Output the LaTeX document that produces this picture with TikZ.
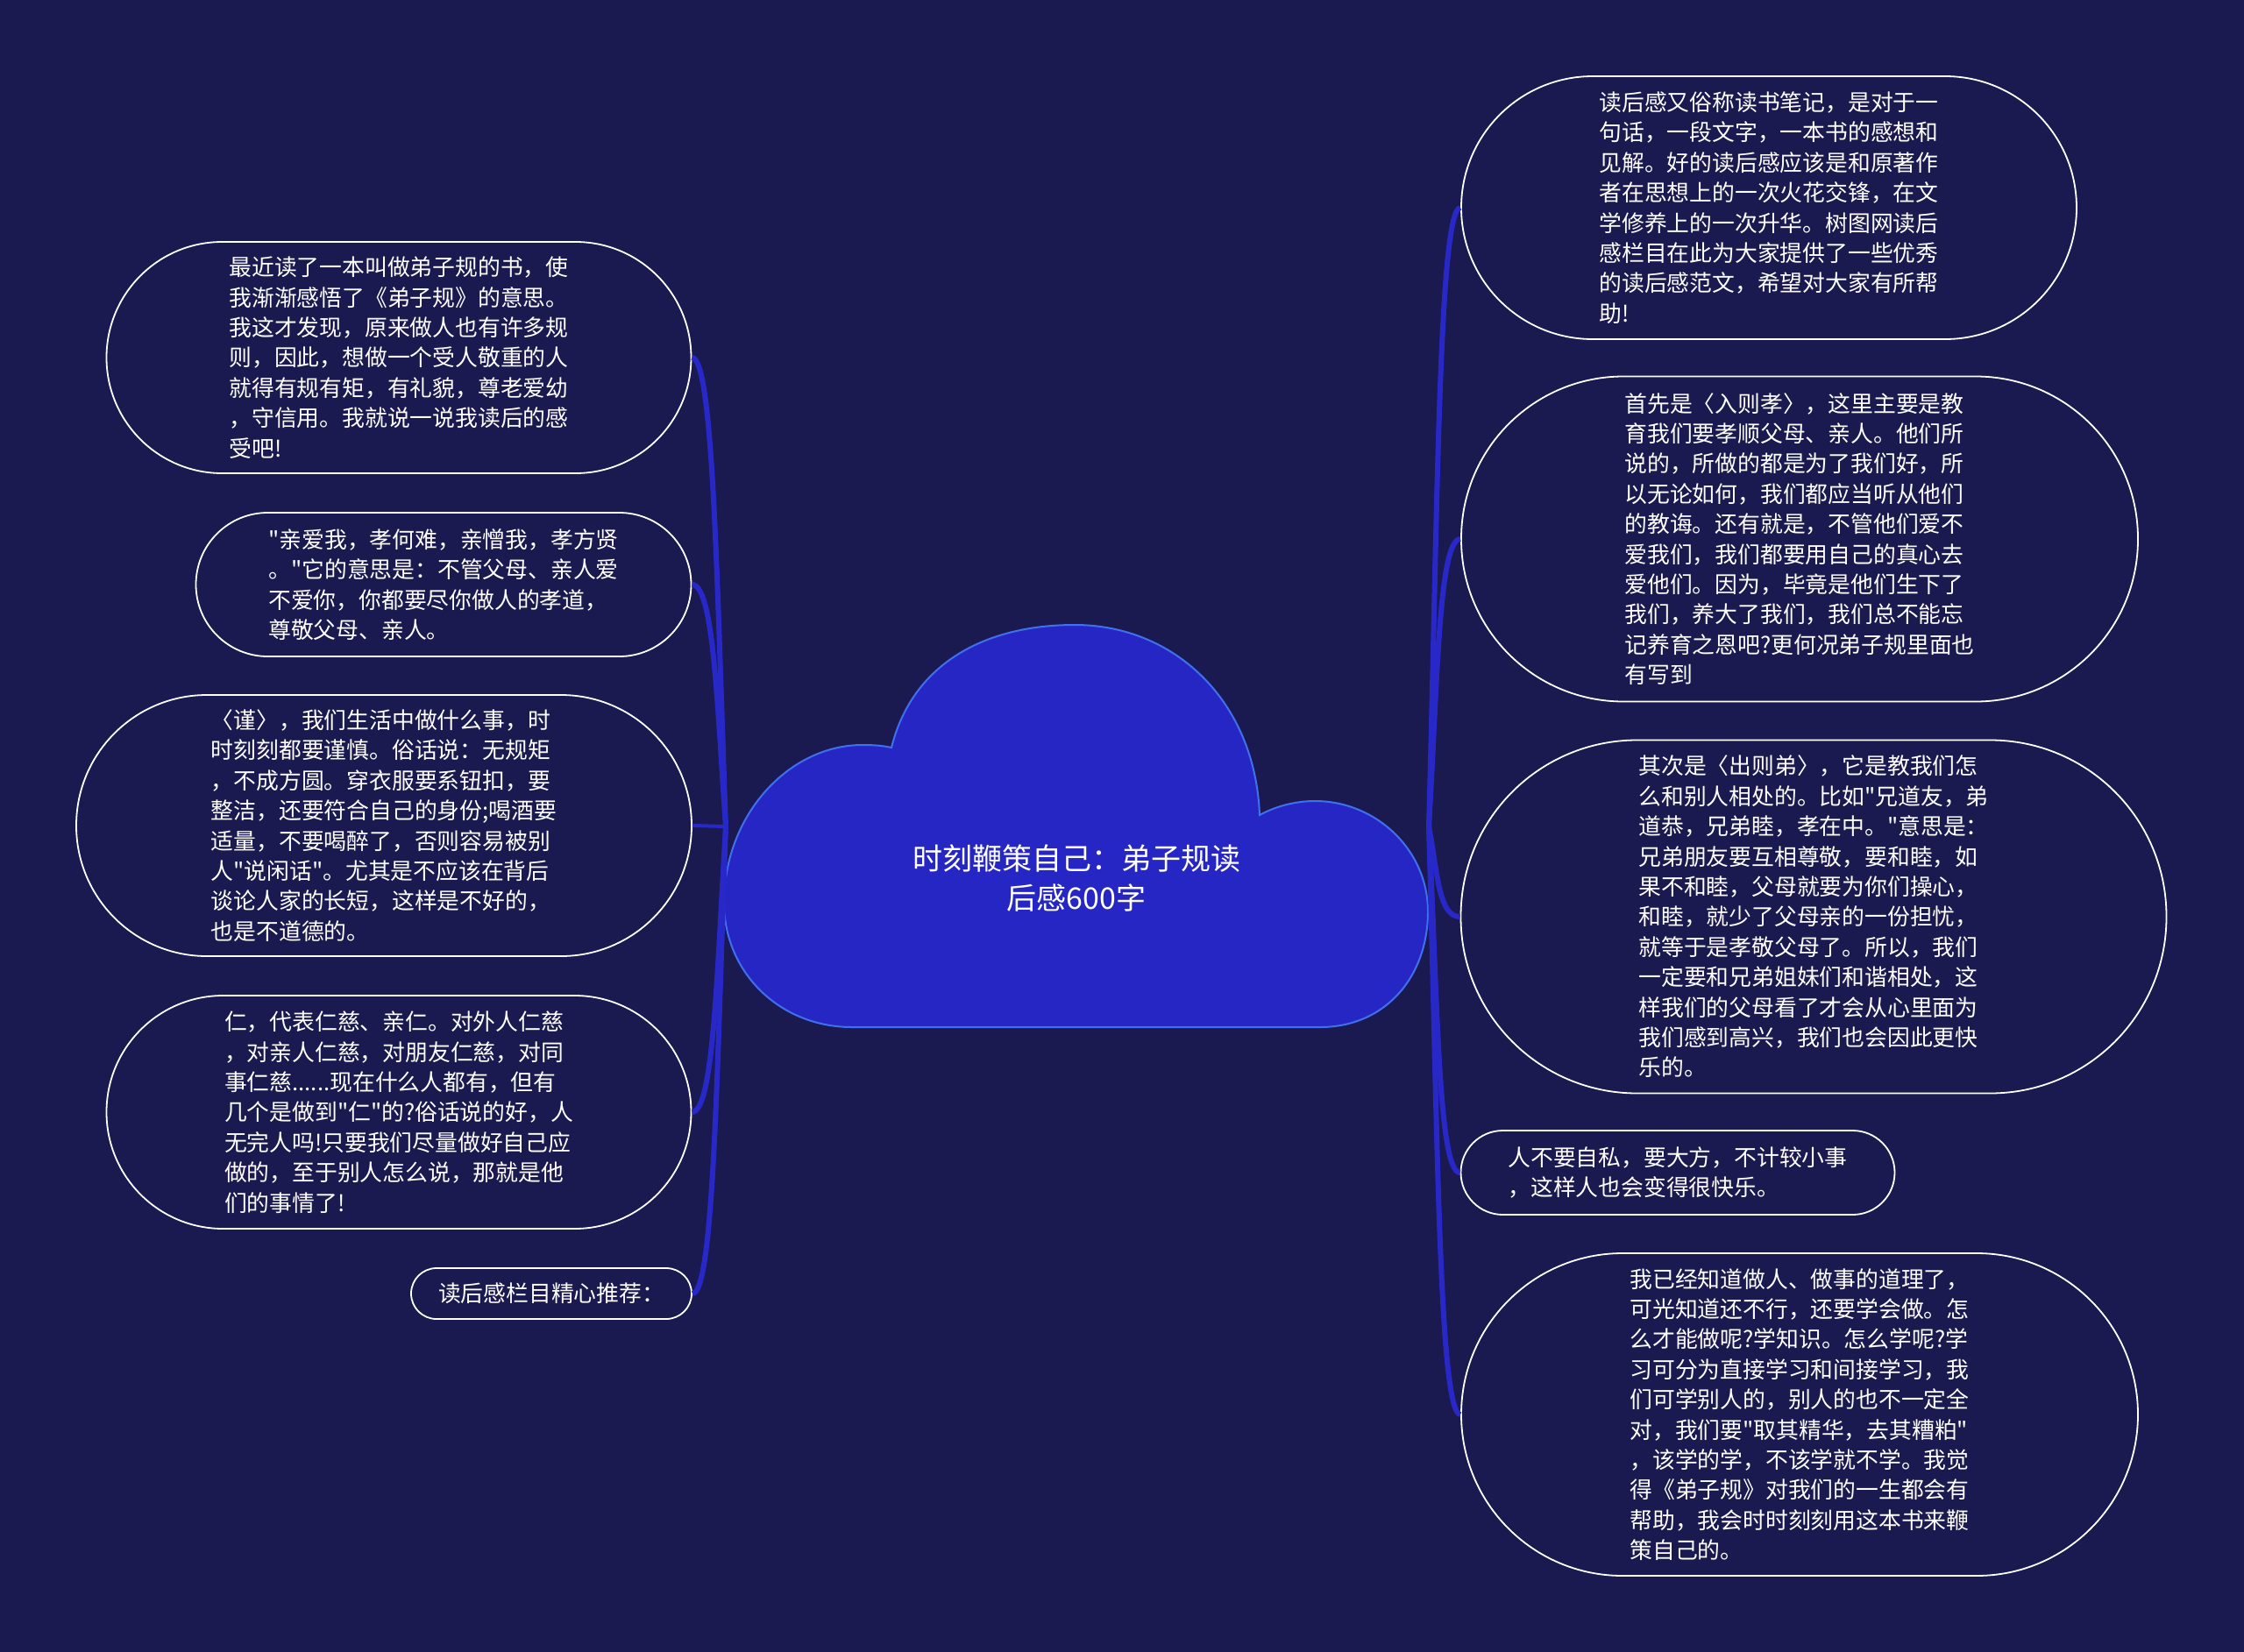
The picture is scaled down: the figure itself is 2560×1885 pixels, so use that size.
\documentclass[tikz,border=0pt]{standalone}
\usepackage{fontspec}
\newfontfamily\cjk{Noto Sans CJK SC}
\definecolor{bg}{RGB}{26,26,80}
\definecolor{cloudfill}{RGB}{38,38,196}
\definecolor{cloudline}{RGB}{64,112,240}
\definecolor{conncol}{RGB}{40,40,200}
\begin{document}
\begin{tikzpicture}[x=1pt,y=-1pt,
  pill/.style={draw=white, line width=1.8pt, rectangle, inner sep=0pt, align=left, text=white,
               font=\cjk\fontsize{25.8pt}{34.4pt}\selectfont},
  conn/.style={draw=conncol, line width=6pt},
  titletext/.style={text=white, align=center, font=\cjk\fontsize{34pt}{45.7pt}\selectfont}]
\useasboundingbox (0,0) rectangle (2560,1885);
\fill[bg] (0,0) rectangle (2560,1885);

% cloud
\filldraw[fill=cloudfill, draw=cloudline, line width=2pt]
  (972,1172) .. controls (890,1172) and (826,1110) .. (826,1030)
  .. controls (826,930) and (900,850) .. (984,850)
  .. controls (998,850) and (1008,851) .. (1017,853)
  .. controls (1040,760) and (1120,713) .. (1226,713)
  .. controls (1340,713) and (1432,800) .. (1437,930)
  .. controls (1455,920) and (1478,914) .. (1500,914)
  .. controls (1570,914) and (1629,970) .. (1629,1040)
  .. controls (1629,1115) and (1580,1172) .. (1506,1172)
  -- cycle;
\node[titletext] (T) at (1228,1002) {时刻鞭策自己：弟子规读\\后感600字};
\coordinate (JL) at (828,943);
\coordinate (JR) at (1630,943);

% left nodes
\node[pill, minimum width=667pt, minimum height=264pt, rounded corners=132pt] (L1) at (455,408)
 {最近读了一本叫做弟子规的书，使\\我渐渐感悟了《弟子规》的意思。\\我这才发现，原来做人也有许多规\\则，因此，想做一个受人敬重的人\\就得有规有矩，有礼貌，尊老爱幼\\，守信用。我就说一说我读后的感\\受吧!};
\node[pill, minimum width=565pt, minimum height=164pt, rounded corners=82pt] (L2) at (506,667)
 {"亲爱我，孝何难，亲憎我，孝方贤\\。"它的意思是：不管父母、亲人爱\\不爱你，你都要尽你做人的孝道，\\尊敬父母、亲人。};
\node[pill, minimum width=702pt, minimum height=298pt, rounded corners=149pt] (L3) at (438,942)
 {〈谨〉，我们生活中做什么事，时\\时刻刻都要谨慎。俗话说：无规矩\\，不成方圆。穿衣服要系钮扣，要\\整洁，还要符合自己的身份;喝酒要\\适量，不要喝醉了，否则容易被别\\人"说闲话"。尤其是不应该在背后\\谈论人家的长短，这样是不好的，\\也是不道德的。};
\node[pill, minimum width=667pt, minimum height=266pt, rounded corners=133pt] (L4) at (455,1269)
 {仁，代表仁慈、亲仁。对外人仁慈\\，对亲人仁慈，对朋友仁慈，对同\\事仁慈......现在什么人都有，但有\\几个是做到"仁"的?俗话说的好，人\\无完人吗!只要我们尽量做好自己应\\做的，至于别人怎么说，那就是他\\们的事情了!};
\node[pill, minimum width=320pt, minimum height=58pt, rounded corners=29pt] (L5) at (629,1476)
 {读后感栏目精心推荐：};

% right nodes
\node[pill, minimum width=702pt, minimum height=300pt, rounded corners=150pt] (R1) at (2018,237)
 {读后感又俗称读书笔记，是对于一\\句话，一段文字，一本书的感想和\\见解。好的读后感应该是和原著作\\者在思想上的一次火花交锋，在文\\学修养上的一次升华。树图网读后\\感栏目在此为大家提供了一些优秀\\的读后感范文，希望对大家有所帮\\助!};
\node[pill, minimum width=772pt, minimum height=371pt, rounded corners=185pt] (R2) at (2053,615)
 {首先是〈入则孝〉，这里主要是教\\育我们要孝顺父母、亲人。他们所\\说的，所做的都是为了我们好，所\\以无论如何，我们都应当听从他们\\的教诲。还有就是，不管他们爱不\\爱我们，我们都要用自己的真心去\\爱他们。因为，毕竟是他们生下了\\我们，养大了我们，我们总不能忘\\记养育之恩吧?更何况弟子规里面也\\有写到};
\node[pill, minimum width=805pt, minimum height=403pt, rounded corners=201pt] (R3) at (2069,1046)
 {其次是〈出则弟〉，它是教我们怎\\么和别人相处的。比如"兄道友，弟\\道恭，兄弟睦，孝在中。"意思是：\\兄弟朋友要互相尊敬，要和睦，如\\果不和睦，父母就要为你们操心，\\和睦，就少了父母亲的一份担忧，\\就等于是孝敬父母了。所以，我们\\一定要和兄弟姐妹们和谐相处，这\\样我们的父母看了才会从心里面为\\我们感到高兴，我们也会因此更快\\乐的。};
\node[pill, minimum width=495pt, minimum height=96pt, rounded corners=48pt] (R4) at (1914,1338)
 {人不要自私，要大方，不计较小事\\，这样人也会变得很快乐。};
\node[pill, minimum width=772pt, minimum height=368pt, rounded corners=184pt] (R5) at (2053,1614)
 {我已经知道做人、做事的道理了，\\可光知道还不行，还要学会做。怎\\么才能做呢?学知识。怎么学呢?学\\习可分为直接学习和间接学习，我\\们可学别人的，别人的也不一定全\\对，我们要"取其精华，去其糟粕"\\，该学的学，不该学就不学。我觉\\得《弟子规》对我们的一生都会有\\帮助，我会时时刻刻用这本书来鞭\\策自己的。};

% connectors
\draw[conn] (JL) .. controls +(-10,-267) and +(25,0) .. (L1.east);
\draw[conn] (JL) .. controls +(-10,-138) and +(25,0) .. (L2.east);
\draw[conn, line width=4pt] (JL) -- (L3.east);
\draw[conn] (JL) .. controls +(-10,163) and +(25,0) .. (L4.east);
\draw[conn] (JL) .. controls +(-10,266) and +(25,0) .. (L5.east);
\draw[conn] (JR) .. controls +(10,-353) and +(-25,0) .. (R1.west);
\draw[conn] (JR) .. controls +(10,-164) and +(-25,0) .. (R2.west);
\draw[conn] (JR) .. controls +(10,51) and +(-25,0) .. (R3.west);
\draw[conn] (JR) .. controls +(10,197) and +(-25,0) .. (R4.west);
\draw[conn] (JR) .. controls +(10,335) and +(-25,0) .. (R5.west);
\end{tikzpicture}
\end{document}
